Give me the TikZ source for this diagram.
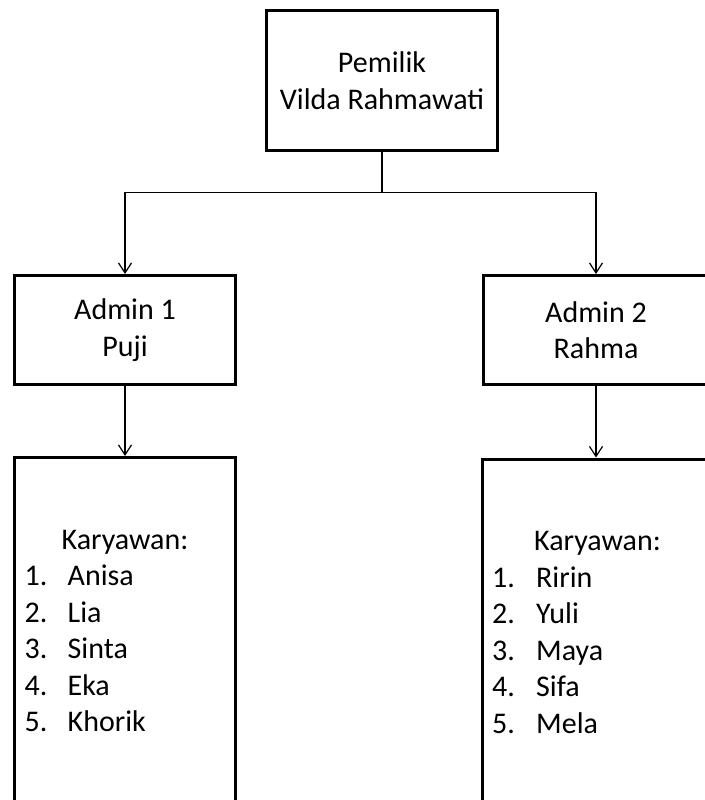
\documentclass[tikz,border=0pt]{standalone}
\usepackage{fontspec}
\setmainfont{Carlito}
\usepackage{tikz}
\usetikzlibrary{arrows.meta,positioning}

\begin{document}
\begin{tikzpicture}[x=1pt,y=-1pt,>={Straight Barb[length=10pt,width=13pt]},
  font=\fontsize{30pt}{36.5pt}\selectfont,
  box/.style={draw,line width=3pt,rectangle,inner sep=0pt,align=center},
  list/.style={inner sep=0pt,align=left},
  link/.style={line width=1.2pt}]

  \useasboundingbox (0,0) rectangle (704,800);

  % Kotak
  \node[box,minimum width=231pt,minimum height=140pt] (owner) at (382,80.5) {Pemilik\\Vilda Rahmawati};
  \node[box,minimum width=221pt,minimum height=109pt] (admin1) at (125,330) {Admin 1\\Puji};
  \node[box,minimum width=225pt,minimum height=109pt] (admin2) at (596,330) {Admin 2\\Rahma};
  \node[box,minimum width=221pt,minimum height=420pt,anchor=north,below=70pt of admin1] (staff1) {};
  \node[box,minimum width=231pt,minimum height=420pt,anchor=north west] (staff2) at (480.5,457.5) {};

  % Daftar karyawan
  \node[list,anchor=base west] (names1) at ([xshift=11.5pt,yshift=-275.5pt]staff1.north west)
    {\hspace*{37pt}Karyawan:\\
     \makebox[43pt][l]{1.}Anisa\\
     \makebox[43pt][l]{2.}Lia\\
     \makebox[43pt][l]{3.}Sinta\\
     \makebox[43pt][l]{4.}Eka\\
     \makebox[43pt][l]{5.}Khorik};
  \node[list,anchor=base west] (names2) at ([xshift=11.5pt,yshift=-275.5pt]staff2.north west)
    {\hspace*{42pt}Karyawan:\\
     \makebox[44pt][l]{1.}Ririn\\
     \makebox[44pt][l]{2.}Yuli\\
     \makebox[44pt][l]{3.}Maya\\
     \makebox[44pt][l]{4.}Sifa\\
     \makebox[44pt][l]{5.}Mela};

  % Garis
  \coordinate (fork) at (382,192.5);
  \draw[link] (owner.south) -- (fork);
  \draw[link,->] (fork) -| (admin1.north);
  \draw[link,->] (fork) -| (admin2.north);
  \draw[link,->] (admin1.south) -- (staff1.north);
  \draw[link,->] (admin2.south) -- (admin2.south |- staff2.north);

\end{tikzpicture}
\end{document}
